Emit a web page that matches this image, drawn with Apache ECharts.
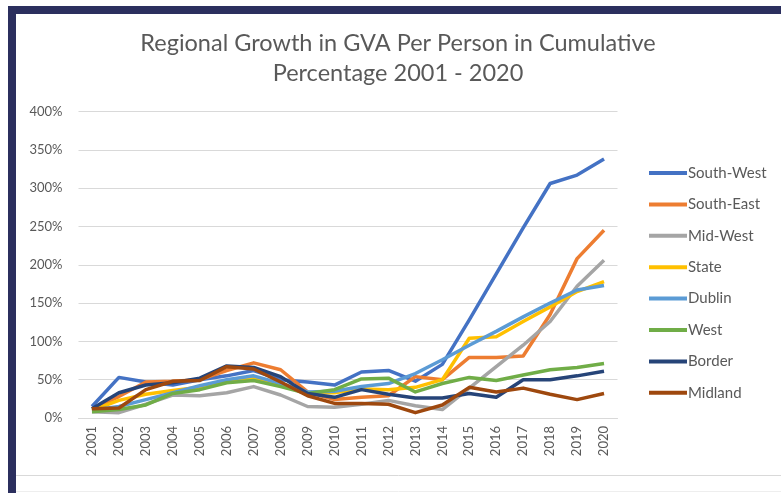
<!DOCTYPE html>
<html>
<head>
<meta charset="utf-8">
<script src="https://cdn.jsdelivr.net/npm/echarts@6/dist/echarts.min.js"></script>
<style>
  html, body { margin: 0; padding: 0; background: #fff; }
  #main { width: 781px; height: 493px; }
</style>
</head>
<body>
<div id="main"></div>
<script>
// years on the x axis
const years = ["2001","2002","2003","2004","2005","2006","2007","2008","2009","2010",
  "2011","2012","2013","2014","2015","2016","2017","2018","2019","2020"];

// cumulative growth, %
const southWest = [15, 53, 47, 43, 50, 55, 62, 50, 47, 43, 60, 62, 48, 70, 128, 188, 248, 306, 317, 338];
const southEast = [12, 28, 47, 48, 50, 62, 72, 63, 34, 24, 27, 29, 54, 50, 79, 79, 81, 135, 208, 245];
const midWest   = [8, 7, 18, 30, 29, 33, 41, 30, 15, 14, 18, 23, 16, 11, 39, 67, 95, 126, 172, 206];
const state     = [10, 23, 31, 36, 40, 48, 52, 44, 33, 33, 38, 37, 40, 50, 104, 106, 126, 145, 165, 178];
const dublin    = [10, 15, 24, 33, 42, 50, 55, 45, 34, 35, 41, 45, 58, 76, 95, 113, 132, 150, 167, 173];
const west      = [8, 11, 17, 32, 37, 46, 49, 41, 32, 37, 51, 52, 34, 45, 53, 49, 56, 63, 66, 71];
const border    = [12, 33, 43, 46, 52, 68, 66, 54, 32, 27, 37, 31, 26, 26, 32, 27, 50, 50, 55, 61];
const midland   = [12, 13, 37, 48, 49, 67, 64, 47, 29, 19, 19, 18, 7, 17, 40, 34, 39, 31, 24, 32];

const names  = ["South-West", "South-East", "Mid-West", "State", "Dublin", "West", "Border", "Midland"];
const values = [southWest, southEast, midWest, state, dublin, west, border, midland];
const colors = ["#4472C4", "#ED7D31", "#A5A5A5", "#FFC000", "#5B9BD5", "#70AD47", "#264478", "#9E480E"];

const font = "Lato, 'Open Sans', sans-serif";

let series = [];
for (let i = 0; i < names.length; i++) {
  series.push({
    name: names[i],
    type: "line",
    data: values[i],
    showSymbol: false,
    symbol: "none",
    lineStyle: { width: 3.5, color: colors[i], join: "round" },
    itemStyle: { color: colors[i] },
    z: 2 + i,
  });
}

const chart = echarts.init(document.getElementById("main"), null, { renderer: "canvas" });
chart.setOption({
  animation: false,
  backgroundColor: "#fff",
  color: colors,
  textStyle: { fontFamily: font },
  title: {
    text: "Regional Growth in GVA Per Person in Cumulative\nPercentage 2001 - 2020",
    left: 393,
    textAlign: "center",
    top: 23,
    textStyle: { fontFamily: font, fontSize: 23.5, fontWeight: "normal", color: "#595959", lineHeight: 30 },
  },
  legend: {
    orient: "vertical",
    left: 644,
    top: 160,
    itemWidth: 38,
    itemHeight: 4,
    itemGap: 15.4,
    icon: "rect",
    textStyle: { fontFamily: font, fontSize: 15, color: "#595959", lineHeight: 16, padding: [0, 0, 0, -4] },
    data: names,
  },
  grid: { left: 78.5, right: 163.5, top: 111.5, bottom: 75, containLabel: false },
  xAxis: {
    type: "category",
    data: years,
    boundaryGap: true,
    axisLine: { show: true, lineStyle: { color: "#D9D9D9", width: 1 } },
    axisTick: { show: false },
    axisLabel: { rotate: 90, color: "#595959", fontSize: 13, fontFamily: font, margin: 8, interval: 0 },
  },
  yAxis: {
    type: "value",
    min: 0,
    max: 400,
    interval: 50,
    axisLine: { show: false },
    axisTick: { show: false },
    splitLine: { lineStyle: { color: "#D9D9D9", width: 1 } },
    axisLabel: { formatter: "{value}%", color: "#595959", fontSize: 13, fontFamily: font, margin: 16 },
  },
  graphic: [
    // navy frame at top and left
    { type: "rect", shape: { x: 8, y: 6, width: 781, height: 8 }, style: { fill: "#2B2F5E" }, z: 100 },
    { type: "rect", shape: { x: 8, y: 6, width: 8, height: 493 }, style: { fill: "#2B2F5E" }, z: 100 },
    // light rules at the bottom
    { type: "line", shape: { x1: 16, y1: 475.5, x2: 781, y2: 475.5 }, style: { stroke: "#D9D9D9", lineWidth: 1 } },
    { type: "line", shape: { x1: 16, y1: 491.5, x2: 781, y2: 491.5 }, style: { stroke: "#EEEEEE", lineWidth: 1 } },
  ],
  series: series,
});
</script>
</body>
</html>
